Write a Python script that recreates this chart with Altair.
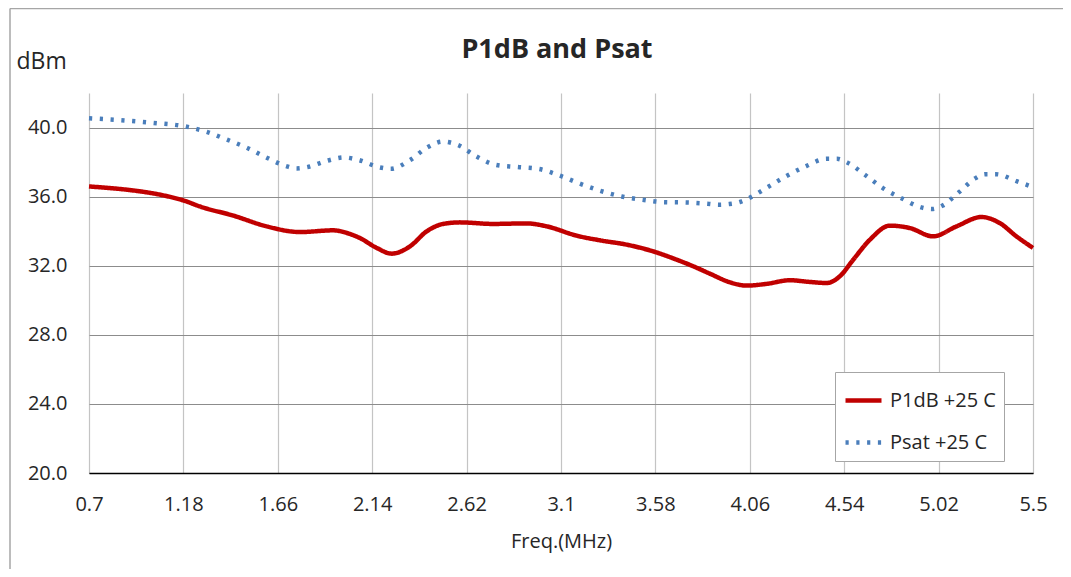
import altair as alt
import pandas as pd

# ---- data ----
p1db_freq = [0.70, 1.18, 1.264, 1.434, 1.603, 1.773, 1.942, 2.01, 2.078, 2.163, 2.239,
             2.332, 2.417, 2.501, 2.586, 2.755, 2.925, 3.027, 3.18, 3.298, 3.434, 3.569,
             3.688, 3.772, 3.857, 3.959, 4.044, 4.145, 4.264, 4.366, 4.45, 4.518, 4.586,
             4.671, 4.772, 4.874, 4.992, 5.111, 5.238, 5.331, 5.416, 5.5]
p1db_val = [36.59, 35.78, 35.43, 34.90, 34.28, 33.95, 34.05, 33.90, 33.60, 33.03, 32.70,
            33.12, 33.99, 34.42, 34.51, 34.42, 34.45, 34.28, 33.74, 33.47, 33.22, 32.83,
            32.35, 31.97, 31.54, 31.04, 30.85, 30.95, 31.16, 31.06, 31.00, 31.39, 32.35,
            33.51, 34.32, 34.18, 33.70, 34.28, 34.82, 34.47, 33.70, 33.03]

psat_freq = [0.70, 0.858, 1.027, 1.192, 1.298, 1.402, 1.503, 1.601, 1.702, 1.756, 1.81,
             1.915, 1.995, 2.071, 2.179, 2.234, 2.333, 2.423, 2.498, 2.577, 2.671, 2.771,
             2.881, 2.989, 3.095, 3.196, 3.299, 3.408, 3.515, 3.625, 3.737, 3.845, 3.901,
             3.955, 4.01, 4.06, 4.154, 4.249, 4.347, 4.45, 4.504, 4.555, 4.647, 4.735,
             4.831, 4.931, 4.986, 5.038, 5.123, 5.208, 5.257, 5.311, 5.416, 5.5]
psat_val = [40.54, 40.43, 40.27, 40.06, 39.75, 39.30, 38.83, 38.27, 37.77, 37.63, 37.71,
            38.09, 38.27, 38.12, 37.69, 37.61, 38.12, 38.87, 39.19, 38.98, 38.32, 37.83,
            37.71, 37.60, 37.21, 36.75, 36.34, 36.01, 35.82, 35.68, 35.66, 35.59, 35.53,
            35.57, 35.69, 35.94, 36.57, 37.21, 37.77, 38.19, 38.19, 37.98, 37.25, 36.51,
            35.91, 35.38, 35.28, 35.47, 36.25, 37.07, 37.30, 37.30, 36.90, 36.55]

series_names = ["P1dB +25 C", "Psat +25 C"]
series_colors = ["#C00000", "#4A7EBB"]
x_ticks = [0.7, 1.18, 1.66, 2.14, 2.62, 3.1, 3.58, 4.06, 4.54, 5.02, 5.5]
y_ticks = [20, 24, 28, 32, 36, 40]
chart_title = ["P1dB and Psat"]

df = pd.concat([
    pd.DataFrame({"freq": p1db_freq, "value": p1db_val, "series": series_names[0]}),
    pd.DataFrame({"freq": psat_freq, "value": psat_val, "series": series_names[1]}),
])

FONT = "Open Sans"
TXT = "#262626"

x_enc = alt.X(
    "freq:Q",
    scale=alt.Scale(domain=[0.7, 5.5], nice=False, zero=False),
    axis=alt.Axis(
        values=x_ticks, format=".2~f", title="Freq.(MHz)",
        grid=True, gridColor="#c4c4c4", gridWidth=1.2,
        domain=True, domainColor="#000000", domainWidth=1.5,
        ticks=False, tickSize=0, labelFlush=False, labelOverlap=False,
        labelBaseline="alphabetic", labelPadding=37,
        labelFont=FONT, labelFontSize=20, labelColor=TXT,
        titleFont=FONT, titleFontSize=20, titleFontWeight="normal", titleColor=TXT,
        titleBaseline="alphabetic", titleY=74,
    ),
)
y_enc = alt.Y(
    "value:Q",
    scale=alt.Scale(domain=[20, 42], nice=False, zero=False),
    axis=alt.Axis(
        values=y_ticks, format=".1f", title="dBm",
        grid=True, gridColor="#8c8c8c", gridWidth=1.2,
        domain=False, ticks=False, tickSize=0, labelPadding=22,
        labelFont=FONT, labelFontSize=20, labelColor=TXT,
        titleFont=FONT, titleFontSize=23, titleFontWeight="normal", titleColor=TXT,
        titleAngle=0, titleAlign="left", titleBaseline="alphabetic",
        titleX=-73, titleY=-25,
    ),
)

legend_props = dict(
    title=None, orient="none", legendX=746, legendY=279,
    fillColor="#ffffff", strokeColor="#a6a6a6", padding=8,
    symbolType="stroke", symbolSize=1296, symbolStrokeWidth=4.5,
    rowPadding=11, labelOffset=6,
    labelFont=FONT, labelFontSize=20, labelColor=TXT,
)

lines = alt.Chart(df).mark_line(interpolate="monotone", strokeWidth=4.5, strokeCap="butt").encode(
    x=x_enc,
    y=y_enc,
    color=alt.Color(
        "series:N",
        scale=alt.Scale(domain=series_names, range=series_colors),
        legend=alt.Legend(**legend_props),
    ),
    strokeDash=alt.StrokeDash(
        "series:N",
        scale=alt.Scale(domain=series_names, range=[[1, 0], [3.2, 7.6]]),
        legend=alt.Legend(**legend_props),
    ),
)

title_mark = alt.Chart(pd.DataFrame({"t": chart_title})).mark_text(
    font=FONT, fontSize=27, fontWeight="bold", color=TXT,
    align="center", baseline="alphabetic",
).encode(text="t:N", x=alt.value(468), y=alt.value(-35))

frame_data = pd.DataFrame({"k": [0]})
frame_top = alt.Chart(frame_data).mark_rule(color="#a6a6a6", strokeWidth=1.5).encode(
    x=alt.value(-79), x2=alt.value(1200), y=alt.value(-84.5)
)
frame_left = alt.Chart(frame_data).mark_rule(color="#a6a6a6", strokeWidth=1.5).encode(
    x=alt.value(-79), y=alt.value(-84.5), y2=alt.value(900)
)

chart = alt.layer(frame_top, frame_left, lines, title_mark).properties(
    width=944,
    height=380,
    padding={"left": 81, "top": 85, "right": 30, "bottom": 96},
    autosize=alt.AutoSizeParams(type="none"),
    background="#ffffff",
).configure_view(stroke=None)

chart.save("out.html", embed_options={"renderer": "svg", "actions": False})
